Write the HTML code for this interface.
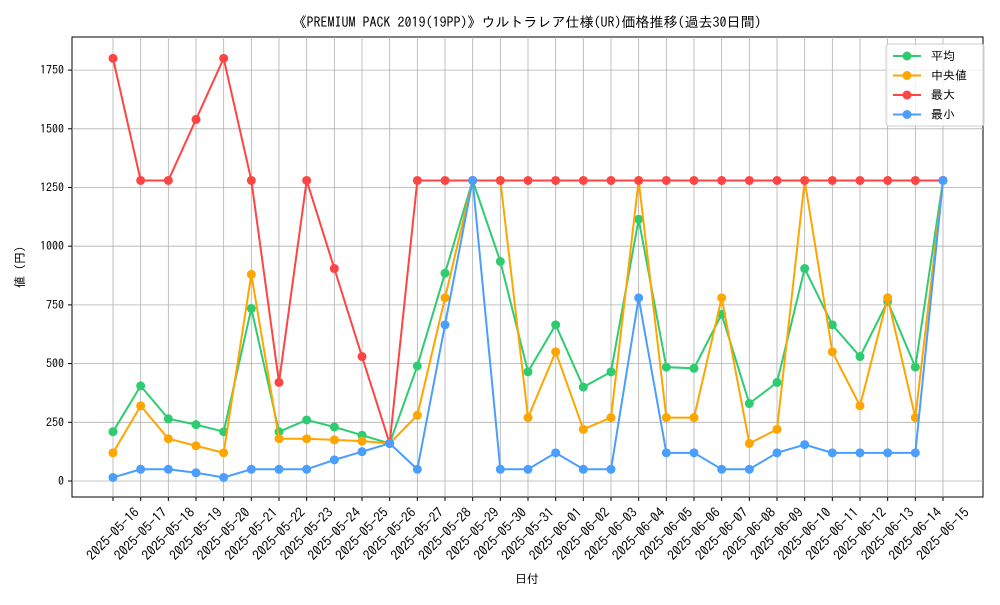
<!DOCTYPE html>
<html><head><meta charset="utf-8">
<style>
html,body{margin:0;padding:0;background:#fff;}
svg text{font-family:"IPAGothic","Noto Sans CJK JP",monospace;fill:#000;}
</style></head>
<body>
<svg id="chart" width="1000" height="600" xmlns="http://www.w3.org/2000/svg">
<text x="527" y="27" font-size="14" text-anchor="middle">《PREMIUM PACK 2019(19PP)》ウルトラレア仕様(UR)価格推移(過去30日間)</text>
<rect x="72" y="37" width="911" height="460" fill="none" stroke="#000" stroke-width="1"/>
<text x="527" y="583" font-size="12" text-anchor="middle">日付</text>
<text transform="translate(24,267) rotate(-90)" font-size="12" text-anchor="middle">値 (円)</text>
<g id="grid"></g><g id="axes"></g><g id="series"></g>
<g>
<rect x="886" y="44" width="98" height="82" fill="#fff" fill-opacity="0.8" stroke="#ccc" rx="3"/>
<g id="legend-items"></g>
</g>
</svg>
<script>
const dates=["2025-05-16","2025-05-17","2025-05-18","2025-05-19","2025-05-20","2025-05-21","2025-05-22","2025-05-23","2025-05-24","2025-05-25","2025-05-26","2025-05-27","2025-05-28","2025-05-29","2025-05-30","2025-05-31","2025-06-01","2025-06-02","2025-06-03","2025-06-04","2025-06-05","2025-06-06","2025-06-07","2025-06-08","2025-06-09","2025-06-10","2025-06-11","2025-06-12","2025-06-13","2025-06-14","2025-06-15"];
const meanVals=[210,405,265,240,210,735,210,260,230,195,160,490,885,1280,935,465,665,400,465,1115,485,480,710,330,420,905,665,530,765,485,1280];
const medianVals=[120,320,180,150,120,880,180,180,175,170,160,280,780,1280,1280,270,550,220,270,1280,270,270,780,160,220,1280,550,320,780,270,1280];
const maxVals=[1800,1280,1280,1540,1800,1280,420,1280,905,530,160,1280,1280,1280,1280,1280,1280,1280,1280,1280,1280,1280,1280,1280,1280,1280,1280,1280,1280,1280,1280];
const minVals=[15,50,50,35,15,50,50,50,90,125,160,50,665,1280,50,50,120,50,50,780,120,120,50,50,120,155,120,120,120,120,1280];
const yTicks=[0,250,500,750,1000,1250,1500,1750];
const seriesNames=["平均","中央値","最大","最小"];
const NS="http://www.w3.org/2000/svg";
const X=i=>113+i*(830/(dates.length-1));
const Y=v=>481-v*(58.7/250);
function mk(tag,attrs,parent){const e=document.createElementNS(NS,tag);for(const k in attrs)e.setAttribute(k,attrs[k]);parent.appendChild(e);return e;}
const grid=document.getElementById('grid'),axes=document.getElementById('axes'),ser=document.getElementById('series');
yTicks.forEach(t=>{
 const l=mk('line',{x1:72,x2:983,y1:Y(t),y2:Y(t),stroke:'#b0b0b0','stroke-width':0.8},grid);
 
 
 mk('line',{x1:68,x2:72,y1:Y(t),y2:Y(t),stroke:'#000'},axes);
 const tx=mk('text',{x:64,y:Y(t)+4,'font-size':12,'text-anchor':'end'},axes);
 tx.textContent=t;
 
 
});
dates.forEach((d,i)=>{
 const l=mk('line',{x1:X(i),x2:X(i),y1:37,y2:497,stroke:'#b0b0b0','stroke-width':0.8},grid);
 
 
 mk('line',{x1:X(i),x2:X(i),y1:497,y2:501,stroke:'#000'},axes);
 const tx=mk('text',{transform:`translate(${X(i)},${534}) rotate(-45)`,'font-size':13.5,'text-anchor':'middle',y:4.5},axes);
 tx.textContent=d;
 
 
});
const all=[[meanVals,'#2ecc71','mean'],[medianVals,'#ffa500','median'],[maxVals,'#ff4444','max'],[minVals,'#4a9eff','min']];
all.forEach(([vals,c,n])=>{
 const g=mk('g',{},ser);
 
 
 mk('polyline',{points:vals.map((v,i)=>X(i)+','+Y(v)).join(' '),fill:'none',stroke:c,'stroke-width':2},g);
 vals.forEach((v,i)=>{
  const p=mk('circle',{cx:X(i),cy:Y(v),r:4.5,fill:c},g);
  
  
 });
});
const li=document.getElementById('legend-items');
all.forEach(([v,c,n],k)=>{
 const y=56+k*19.5;
 const g=mk('g',{},li);
 
 
 mk('line',{x1:893,x2:921,y1:y,y2:y,stroke:c,'stroke-width':2},g);
 mk('circle',{cx:907,cy:y,r:4.5,fill:c},g);
 const t=mk('text',{x:931,y:y+4,'font-size':12},g);
 t.textContent=seriesNames[k];
});
</script>
</body></html>
